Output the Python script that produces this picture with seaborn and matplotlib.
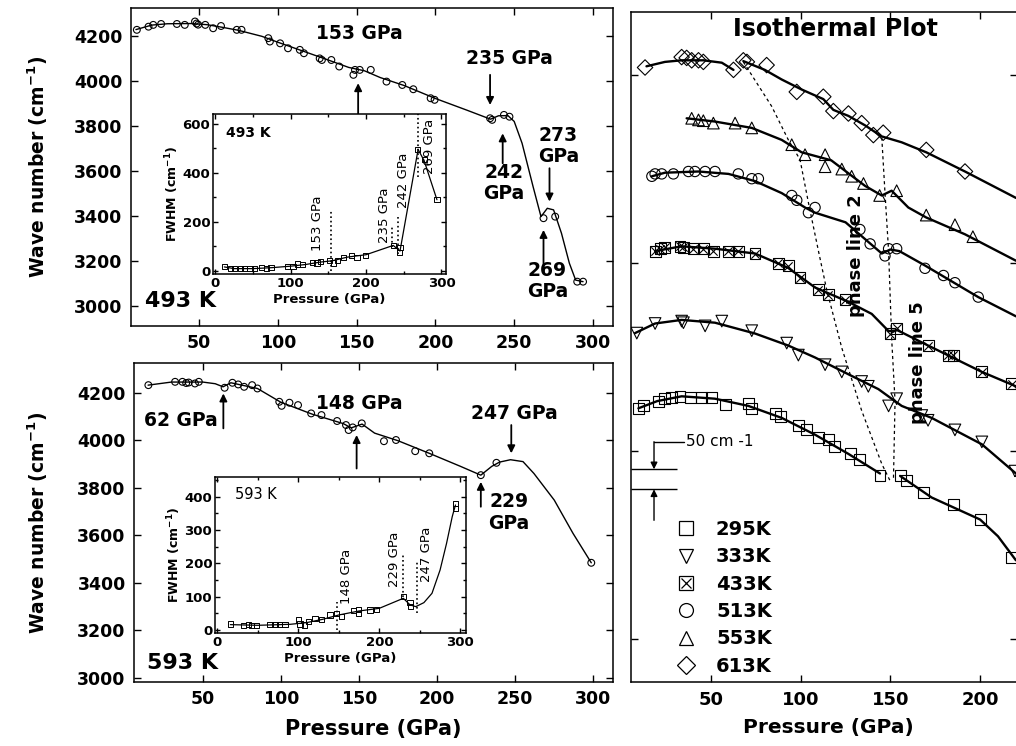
import matplotlib
matplotlib.use("Agg")
import matplotlib.pyplot as plt
import seaborn as sns
from matplotlib.lines import Line2D
from matplotlib.legend_handler import HandlerTuple
from matplotlib.ticker import MultipleLocator

# ---------------- 493 K : Raman wave number vs pressure ----------------
p493 = [10.6, 18, 21, 26, 36, 41, 47.5, 48.5, 49.5, 54, 59, 64, 74, 77, 94, 95, 101.5, 106.5,
        114, 116.6, 126.6, 128, 134, 139, 148, 149, 152, 159, 169, 179, 186, 197, 199.5,
        234.7, 236, 243.5, 247, 268.6, 276, 290, 293.7]
w493 = [4227, 4241, 4249, 4253, 4253, 4249, 4264, 4255, 4250, 4249, 4234, 4244, 4227, 4227, 4190,
        4175, 4167, 4145, 4138, 4123, 4100, 4093, 4093, 4064, 4027, 4049, 4049, 4049, 3997, 3982,
        3963, 3923, 3916, 3834, 3827, 3849, 3841, 3390, 3397, 3108, 3108]
fit_p493 = [10, 20, 30, 45, 55, 65, 75, 90, 100, 115, 130, 145, 155, 165, 180, 200, 220, 235, 240,
            246, 250, 255, 262, 267, 271, 275, 280, 285, 289, 293.7]
fit_w493 = [4228, 4248, 4254, 4255, 4250, 4238, 4225, 4198, 4172, 4135, 4098, 4060, 4045, 4015,
            3980, 3922, 3870, 3830, 3845, 3846, 3820, 3723, 3530, 3397, 3434, 3427, 3323, 3190,
            3115, 3108]

# FWHM inset 493 K
fp493 = [12, 20, 26, 33, 39, 46, 52, 61, 68, 74, 96, 103, 109, 116, 129, 135, 140, 151, 157, 162,
         170, 181, 188, 199, 236, 244.5, 245, 268.6, 277, 294]
fw493 = [18, 7, 7, 7, 7, 7, 7, 14, 10, 14, 18, 18, 27, 25, 34, 31, 37, 41, 31, 41, 52, 62, 55, 62,
         103, 75, 96, 496, 455, 290]
ffit_p493 = [12, 25, 50, 75, 100, 120, 140, 155, 175, 200, 236, 245, 269, 277, 294]
ffit_w493 = [15, 8, 8, 12, 18, 25, 35, 40, 55, 65, 103, 80, 496, 450, 290]

# ---------------- 593 K ----------------
p593 = [15.2, 32.3, 37, 39.4, 41, 45, 47.5, 64, 69, 72.7, 76.5, 81.6, 85, 99, 100.5, 105.5, 111,
        119.4, 126, 136, 141.7, 143.4, 146, 151.8, 166, 173.7, 186, 195, 228, 238, 298.7]
w593 = [4232, 4246, 4246, 4241, 4243, 4239, 4246, 4221, 4242, 4235, 4225, 4232, 4218, 4162, 4145,
        4158, 4148, 4113, 4106, 4081, 4064, 4043, 4054, 4071, 3996, 4001, 3954, 3945, 3853, 3905,
        3484]
fit_p593 = [15, 30, 50, 58, 63, 68, 85, 100, 120, 140, 145, 152, 160, 175, 195, 215, 228, 235,
            240, 247, 255, 262, 275, 287, 298.7]
fit_w593 = [4232, 4245, 4245, 4238, 4225, 4242, 4218, 4160, 4110, 4070, 4052, 4068, 4030, 3998,
            3945, 3890, 3853, 3890, 3908, 3918, 3910, 3860, 3748, 3608, 3484]

fp593 = [16.5, 32, 38, 42, 48.5, 65, 71, 77, 83.5, 100, 102, 108, 112, 120.6, 129, 139, 147,
         153.5, 168, 174, 174, 188.5, 196.7, 229.6, 237.9, 238.7, 294, 294]
fw593 = [18, 13, 17, 13, 13, 17, 17, 17, 17, 30, 18, 15, 25, 35, 32, 45, 50, 40, 58, 62, 50, 60,
         62, 100, 82, 70, 380, 365]
ffit_p593 = [16, 50, 90, 110, 130, 150, 175, 200, 229.6, 238, 245, 255, 265, 275, 283, 290, 294]
ffit_w593 = [16, 14, 17, 22, 32, 45, 57, 65, 95, 75, 70, 82, 110, 180, 260, 340, 375]

# ---------------- Isothermal plot (relative wave number, cm-1, offset) ----------------
temps = ["295K", "333K", "433K", "513K", "553K", "613K"]
iso_p = {
    "295K": [9.5, 12.3, 20.6, 24.3, 28, 32.7, 38.3, 44.8, 50.4, 57.8, 70.8, 72.7, 85.7, 88.5, 98.7,
             103.3, 109.8, 115.4, 119, 127.5, 133, 144.2, 155.4, 159, 168.4, 185, 200, 217.7],
    "333K": [8.6, 18.8, 33.6, 34.6, 46.7, 56, 72.7, 92.2, 98.7, 113.6, 122.9, 134, 137.7, 149,
             153.5, 167.5, 171, 186, 201, 219.5],
    "433K": [18.8, 21.6, 24.3, 32.7, 34.6, 40, 45.7, 51.3, 59.7, 65.2, 74.5, 87.5, 93, 99.6, 109.8,
             115.4, 124.7, 149.8, 153.5, 171, 182.3, 185, 201, 217.7],
    "513K": [17, 18.8, 22.5, 29, 37.4, 41, 46.7, 52.2, 65.2, 72.7, 76.4, 95, 97.8, 104.3, 108, 133,
             138.7, 147, 149, 153.5, 169.3, 179.6, 186, 199],
    "553K": [39.2, 43, 45.7, 51.3, 63.4, 72.7, 95, 102.4, 113.6, 113.6, 122.9, 128.4, 135, 144,
             153.5, 170, 186, 196],
    "613K": [13.2, 33.6, 36.4, 39.2, 43, 45.7, 62.5, 68, 70, 81, 97.8, 112.6, 118.2, 126.6, 134,
             140.5, 146, 170, 191.6],
}
iso_w = {
    "295K": [685, 691, 703, 709, 713, 715, 713, 713, 713, 694, 697, 685, 673, 665, 643, 631, 613,
             607, 589, 571, 558, 516, 516, 504, 474, 444, 407, 311],
    "333K": [873, 897, 903, 899, 891, 903, 879, 848, 818, 794, 776, 752, 740, 691, 709, 667, 655,
             631, 601, 528],
    "433K": [1078, 1084, 1088, 1090, 1088, 1084, 1084, 1078, 1078, 1078, 1072, 1048, 1042, 1011,
             981, 969, 957, 872, 885, 842, 818, 818, 776, 746],
    "513K": [1265, 1271, 1271, 1271, 1277, 1277, 1277, 1277, 1271, 1259, 1259, 1217, 1205, 1174,
             1187, 1132, 1096, 1066, 1084, 1084, 1035, 1017, 999, 963],
    "553K": [1410, 1406, 1404, 1398, 1398, 1386, 1344, 1319, 1319, 1289, 1283, 1265, 1247, 1217,
             1229, 1168, 1144, 1114],
    "613K": [1537, 1563, 1561, 1555, 1555, 1551, 1531, 1555, 1551, 1543, 1476, 1464, 1428, 1422,
             1398, 1368, 1374, 1331, 1277],
}
# fitted curves, each a list of segments
iso_fit = {
    "295K": [([9.5, 20, 33.6, 52.2, 70.8, 89.4, 108, 126.6, 144.2],
              [685, 703, 715, 709, 691, 661, 619, 571, 522]),
             ([155.4, 173, 200, 210, 220], [516, 462, 407, 365, 305])],
    "333K": [([7.6, 18.8, 33.6, 52.2, 74.5, 93, 108, 126.6, 143.3, 150.7, 156.3, 173, 201, 220],
              [873, 897, 906, 899, 872, 842, 812, 770, 733, 709, 691, 661, 595, 522])],
    "433K": [([18.8, 33.6, 52.2, 74.5, 93, 108, 126.6, 139.6, 149, 154, 171, 201, 220],
              [1078, 1090, 1084, 1072, 1036, 987, 951, 921, 878, 880, 842, 776, 740])],
    "513K": [([17, 24.3, 43, 59.7, 74.5, 89.4, 102.4, 108, 125, 145.2, 150, 155, 169.3, 199, 220],
              [1265, 1274, 1277, 1271, 1253, 1223, 1187, 1174, 1150, 1072, 1082, 1078, 1042, 963, 915])],
    "553K": [([36.4, 52, 72.7, 89.4, 100.5, 117, 135.9, 145.2, 150.7, 160, 170, 191.6, 220],
              [1410, 1402, 1386, 1356, 1325, 1305, 1241, 1217, 1229, 1187, 1162, 1120, 1054])],
    "613K": [([14, 24.3, 33.6, 45.7, 56, 62.5], [1540, 1551, 1555, 1555, 1549, 1531]),
             ([68, 80, 89.4, 100.5, 112.6, 118.2, 126.6, 136, 145, 156.3, 170, 191.6, 220],
              [1553, 1531, 1507, 1482, 1458, 1431, 1416, 1392, 1365, 1350, 1325, 1277, 1211])],
}
iso_marker = {"295K": "s", "333K": "v", "433K": "s", "513K": "o", "553K": "^", "613K": "D"}
iso_size = {"295K": 62, "333K": 70, "433K": 62, "513K": 55, "553K": 70, "613K": 62}

phase2_p = [68, 83.8, 93.1, 99.6, 104.3, 109.9, 114.5, 122.9, 134, 145.2, 149.8]
phase2_w = [1551, 1440, 1356, 1307, 1199, 1078, 981, 836, 679, 546, 504]
phase5_p = [145.2, 147, 149, 150.7, 152.6, 151.7]
phase5_w = [1362, 1223, 1078, 860, 703, 504]

# ---------------- style ----------------
sns.set_theme(style="ticks")
plt.rcParams["font.family"] = ["DejaVu Sans"]
plt.rcParams["mathtext.default"] = "regular"
plt.rcParams["axes.edgecolor"] = "black"
plt.rcParams["axes.linewidth"] = 1.1
plt.rcParams["text.color"] = "black"
plt.rcParams["axes.labelcolor"] = "black"
plt.rcParams["xtick.color"] = "black"
plt.rcParams["ytick.color"] = "black"
plt.rcParams["legend.labelcolor"] = "black"

W, H = 1016, 746
fig = plt.figure(figsize=(W / 100, H / 100), dpi=100)


def box(l, t, r, b):
    return [l / W, 1 - b / H, (r - l) / W, (b - t) / H]


def curve(ax, x, y, lw=1.0, ls="-"):
    sns.lineplot(x=x, y=y, ax=ax, color="black", lw=lw, linestyle=ls, sort=False,
                 estimator=None, errorbar=None)


def marks(ax, x, y, m, s, lw=0.8):
    if m == "x":
        sns.scatterplot(x=x, y=y, ax=ax, marker=m, s=s, color="black", linewidth=lw, zorder=3)
    else:
        sns.scatterplot(x=x, y=y, ax=ax, marker=m, s=s, color="black", facecolor="none",
                        edgecolor="black", linewidth=lw, zorder=3)


def arrow(ax, x, y0, y1, lw=1.3, ms=11):
    ax.annotate("", xy=(x, y1), xytext=(x, y0),
                arrowprops=dict(arrowstyle="-|>", color="black", lw=lw, mutation_scale=ms,
                                shrinkA=0, shrinkB=0))


def style(ax, size, length=5.0, pad=6, bold=True):
    ax.tick_params(which="both", direction="in", top=True, right=True, length=length, width=1,
                   labelsize=size, pad=pad, colors="black")
    ax.tick_params(which="minor", length=length * 0.6)
    for lab in ax.get_xticklabels() + ax.get_yticklabels():
        lab.set_fontweight("bold" if bold else "normal")


ann = dict(fontsize=13.5, fontweight="bold", ha="center", va="center", linespacing=1.15,
           color="black")

# ================= top-left panel (493 K) =================
ax1 = fig.add_axes(box(130.7, 8, 612.7, 326))
curve(ax1, fit_p493, fit_w493, lw=1.0)
marks(ax1, p493, w493, "o", 24, 0.8)
ax1.set_xlim(6.7, 312.5)
ax1.set_ylim(2911, 4324)
ax1.set_xticks([50, 100, 150, 200, 250, 300])
ax1.set_yticks([3000, 3200, 3400, 3600, 3800, 4000, 4200])
style(ax1, 12.5)
ax1.set_xlabel("")
ax1.set_ylabel("Wave number (cm$^{\\mathbf{-1}}$)", fontsize=13.5, fontweight="bold")
ax1.yaxis.set_label_coords(-0.168, 0.5)
ax1.text(152, 4212, "153 GPa", **ann)
arrow(ax1, 151, 3850, 3990)
ax1.text(247, 4101, "235 GPa", **ann)
arrow(ax1, 234.7, 4027, 3893)
ax1.text(243.5, 3545, "242\nGPa", **ann)
arrow(ax1, 242.7, 3634, 3767)
ax1.text(278, 3711, "273\nGPa", **ann)
arrow(ax1, 272.4, 3612, 3464)
ax1.text(271, 3112, "269\nGPa", **ann)
arrow(ax1, 268.6, 3175, 3338)
ax1.text(15.8, 3024, "493 K", fontsize=16, fontweight="bold", ha="left", va="center")

# inset 493 K
in1 = fig.add_axes(box(213, 114, 446, 274))
in1.set_zorder(5)
curve(in1, ffit_p493, ffit_w493, lw=0.9)
marks(in1, fp493, fw493, "s", 14, 0.7)
in1.set_xlim(-3, 306)
in1.set_ylim(-14, 641)
in1.set_xticks([0, 100, 200, 300])
in1.set_yticks([0, 200, 400, 600])
in1.xaxis.set_minor_locator(MultipleLocator(50))
in1.yaxis.set_minor_locator(MultipleLocator(100))
style(in1, 9.5, length=3.5, pad=2)
in1.set_xlabel("Pressure (GPa)", fontsize=9.5, fontweight="bold", labelpad=2)
in1.set_ylabel("FWHM (cm$^{\\mathbf{-1}}$)", fontsize=9, fontweight="bold", labelpad=1)
in1.vlines([153], 0, 245, colors="black", linestyles="dotted", lw=1.2)
in1.vlines([235], 95, 185, colors="black", linestyles="dotted", lw=1.2)
in1.vlines([242], 68, 219, colors="black", linestyles="dotted", lw=1.2)
in1.vlines([269], 384, 641, colors="black", linestyles="dotted", lw=1.2)
rot = dict(fontsize=9.5, rotation=90, ha="center", va="center")
in1.text(135, 192, "153 GPa", **rot)
in1.text(225, 226, "235 GPa", **rot)
in1.text(250, 370, "242 GPa", **rot)
in1.text(284, 510, "269 GPa", **rot)
in1.text(14, 562, "493 K", fontsize=10, fontweight="bold", ha="left", va="center")

# ================= bottom-left panel (593 K) =================
ax2 = fig.add_axes(box(134, 363.3, 613.3, 682))
curve(ax2, fit_p593, fit_w593, lw=1.0)
marks(ax2, p593, w593, "o", 24, 0.8)
ax2.set_xlim(6, 312.8)
ax2.set_ylim(2982, 4324)
ax2.set_xticks([50, 100, 150, 200, 250, 300])
ax2.set_yticks([3000, 3200, 3400, 3600, 3800, 4000, 4200])
style(ax2, 12.5)
ax2.set_xlabel("Pressure (GPa)", fontsize=15, fontweight="bold")
ax2.xaxis.set_label_coords(0.5, -0.115)
ax2.set_ylabel("Wave number (cm$^{\\mathbf{-1}}$)", fontsize=13.5, fontweight="bold")
ax2.yaxis.set_label_coords(-0.175, 0.5)
ax2.text(35.8, 4085, "62 GPa", **ann)
arrow(ax2, 63.2, 4050, 4197)
ax2.text(150.5, 4155, "148 GPa", **ann)
arrow(ax2, 148.5, 3881, 4022)
ax2.text(249.5, 4113, "247 GPa", **ann)
arrow(ax2, 247.5, 4064, 3945)
ax2.text(246, 3696, "229\nGPa", **ann)
arrow(ax2, 228, 3720, 3825)
ax2.text(14.3, 3061, "593 K", fontsize=16, fontweight="bold", ha="left", va="center")

# inset 593 K
in2 = fig.add_axes(box(215, 477.3, 466, 633.3))
in2.set_zorder(5)
curve(in2, ffit_p593, ffit_w593, lw=0.9)
marks(in2, fp593, fw593, "s", 14, 0.7)
in2.set_xlim(-3, 307)
in2.set_ylim(-10, 458)
in2.set_xticks([0, 100, 200, 300])
in2.set_yticks([0, 100, 200, 300, 400])
in2.xaxis.set_minor_locator(MultipleLocator(50))
in2.yaxis.set_minor_locator(MultipleLocator(50))
style(in2, 9.5, length=3.5, pad=2)
in2.set_xlabel("Pressure (GPa)", fontsize=9.5, fontweight="bold", labelpad=2)
in2.set_ylabel("FWHM (cm$^{\\mathbf{-1}}$)", fontsize=9, fontweight="bold", labelpad=1)
in2.vlines([148], 0, 85, colors="black", linestyles="dotted", lw=1.2)
in2.vlines([229], 100, 230, colors="black", linestyles="dotted", lw=1.2)
in2.vlines([247], 50, 210, colors="black", linestyles="dotted", lw=1.2)
in2.text(160, 162, "148 GPa", **rot)
in2.text(219, 212, "229 GPa", **rot)
in2.text(258.5, 228, "247 GPa", **rot)
in2.text(22, 405, "593 K", fontsize=10.5, ha="left", va="center")

# ================= right panel: isothermal plot =================
ax3 = fig.add_axes(box(630.7, 11.7, 1017, 682.3))
for t in temps:
    for sx, sy in iso_fit[t]:
        curve(ax3, sx, sy, lw=1.7)
    marks(ax3, iso_p[t], iso_w[t], iso_marker[t], iso_size[t], 0.8)
    if t == "433K":
        marks(ax3, iso_p[t], iso_w[t], "x", 36, 0.8)
curve(ax3, phase2_p, phase2_w, lw=0.9, ls=(0, (2.5, 2.5)))
curve(ax3, phase5_p, phase5_w, lw=0.9, ls=(0, (2.5, 2.5)))
ax3.set_xlim(5.2, 220.6)
ax3.set_ylim(0, 1676.5)
ax3.set_xticks([50, 100, 150, 200])
ax3.set_yticks([108, 578, 1048, 1518])
style(ax3, 13)
ax3.tick_params(labelleft=False)
ax3.set_ylabel("")
ax3.set_xlabel("Pressure (GPa)", fontsize=14.5, fontweight="bold")
ax3.xaxis.set_label_coords(0.513, -0.053)
ax3.text(0.529, 0.974, "Isothermal Plot", transform=ax3.transAxes, fontsize=17,
         fontweight="bold", ha="center", va="center")
ax3.text(130.6, 1066, "phase line 2", fontsize=13, fontweight="bold", rotation=90,
         ha="center", va="center")
ax3.text(165.2, 798, "phase line 5", fontsize=13, fontweight="bold", rotation=90,
         ha="center", va="center")
# 50 cm-1 scale indicator
ax3.hlines([532.5, 482.5], 5.2, 30.9, colors="black", lw=1.0)
ax3.plot([35, 18.2], [601.5, 601.5], color="black", lw=1.0)
arrow(ax3, 18.2, 601.5, 532.5, lw=1.0, ms=10)
arrow(ax3, 18.2, 405, 482.5, lw=1.0, ms=10)
ax3.text(36, 601.5, "50 cm -1", fontsize=11, ha="left", va="center")

handles = []
for t in temps:
    h = Line2D([], [], ls="none", marker=iso_marker[t], ms=10 if t != "613K" else 9,
               mfc="none", mec="black", mew=0.9)
    if t == "433K":
        h = (h, Line2D([], [], ls="none", marker="x", ms=7, mec="black", mew=0.9))
    handles.append(h)
ax3.legend(handles, temps, handler_map={tuple: HandlerTuple(ndivide=1)}, loc="upper left",
           bbox_to_anchor=(0.105, 0.242), frameon=False, prop={"weight": "bold", "size": 14},
           labelspacing=0.43, handletextpad=0.8, handlelength=1.5, borderpad=0,
           borderaxespad=0)

fig.savefig("out.png", dpi=100)
